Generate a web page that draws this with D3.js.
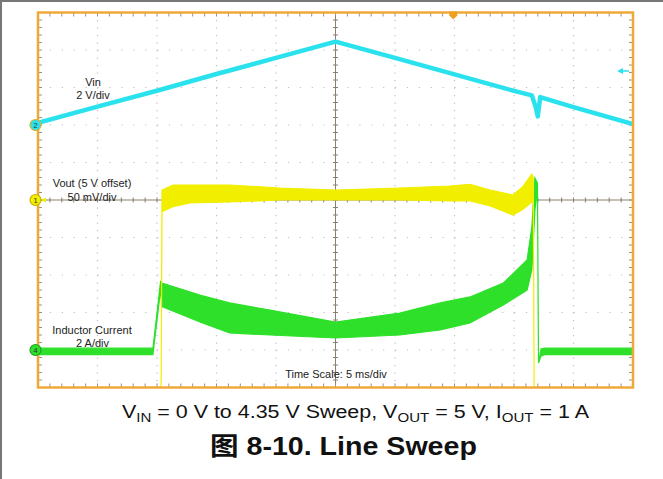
<!DOCTYPE html>
<html><head><meta charset="utf-8">
<script src="https://cdn.jsdelivr.net/npm/d3@7"></script>
<style>body{margin:0;background:#fff}svg{display:block}</style>
</head><body>
<script>
// ---- data (time in ms, 5 ms/div) ----
const vinTime  = [0, 5, 10.3, 15, 20, 25, 30, 35, 40, 41.5, 41.8, 42.0, 42.2, 45, 50];
const vinVolts = [0.11, 0.98, 1.88, 2.72, 3.58, 4.45, 3.58, 2.7, 1.82, 1.58, 1.0, 0.46, 1.49, 0.95, 0.05];

const voutTime = [0, 10.34, 10.42, 11.34, 12.77, 16.1, 20.3, 25, 30.4, 34.6, 36.3, 38.0, 39.9, 40.7, 41.5, 41.62, 41.7, 50];
const voutHigh = [-5000, -5000, 13.3, 20, 20, 20, 16, 13.3, 16, 18.7, 21, 13.3, 6.7, 17, 34.7, 30, -5000, -5000]; // mV, 5 V offset
const voutLow  = [-5000, -5000, -15.6, -9, -4, -2.7, 0, 0, 0, -1.3, -1.3, -8, -20, -13, -2.7, 0, -5000, -5000];

const ilTime = [0, 9.66, 10.3, 10.42, 13.6, 16.1, 19.5, 25, 30.4, 33.8, 36.3, 39.1, 41.1, 41.5, 41.76, 41.97, 42.06, 42.27, 42.6, 50];
const ilHigh = [0.1, 0.1, 3.65, 3.57, 2.93, 2.51, 2.13, 1.49, 1.97, 2.51, 2.83, 3.57, 4.8, 6.56, 9.17, 8.9, -0.69, 0.05, 0.1, 0.1];
const ilLow  = [-0.25, -0.25, 3.2, 2.32, 1.49, 0.91, 0.8, 0.64, 0.8, 1.07, 1.44, 2.4, 3.2, 4.27, 7.5, 8.5, -0.69, -0.32, -0.25, -0.25];

const hDivs = d3.range(0, 11);   // 10 horizontal divisions
const vDivs = d3.range(0, 11);   // 10 vertical divisions
const triggerTime = 34.9;        // ms, trigger position marker

// ---- layout ----
const W = 663, H = 479;
const L = 38, R = 633, T = 12.5, B = 387.5;
const svg = d3.select("body").append("svg").attr("width", W).attr("height", H);

// outer border (top & left)
svg.append("line").attr("x1",0).attr("x2",W).attr("y1",1).attr("y2",1).attr("stroke","#777").attr("stroke-width",2);
svg.append("line").attr("x1",1).attr("x2",1).attr("y1",0).attr("y2",H).attr("stroke","#777").attr("stroke-width",2);

const x = d3.scaleLinear().domain([0, 50]).range([L, R]);
const gDiv = d3.scaleLinear().domain([0, 10]).range([L, R]);
const vDiv = d3.scaleLinear().domain([0, 10]).range([T, B]);
const divH = (B - T) / 10;
const yVin = d3.scaleLinear().domain([0, 2]).range([125, 125 - divH]);     // 2 V/div
const yVout = d3.scaleLinear().domain([0, 50]).range([200, 200 - divH]);   // 50 mV/div
const yIl = d3.scaleLinear().domain([0, 2]).range([350, 350 - divH]);      // 2 A/div

// clip
svg.append("clipPath").attr("id","clip").append("rect").attr("x",L).attr("y",T).attr("width",R-L).attr("height",B-T);

// grid
const grid = svg.append("g");
hDivs.slice(1, -1).forEach(d => {
  grid.append("line").attr("x1", gDiv(d)).attr("x2", gDiv(d)).attr("y1", T).attr("y2", B)
    .attr("stroke", "#c0c0c0").attr("stroke-width", 1.2).attr("stroke-dasharray", "1.2,6.3");
});
vDivs.slice(1, -1).forEach(d => {
  grid.append("line").attr("x1", L).attr("x2", R).attr("y1", vDiv(d)).attr("y2", vDiv(d))
    .attr("stroke", "#c0c0c0").attr("stroke-width", 1.2).attr("stroke-dasharray", "1.2,10.7");
});

// center cross
const cx = gDiv(5), cy = vDiv(5);
grid.append("line").attr("x1", cx).attr("x2", cx).attr("y1", T).attr("y2", B).attr("stroke", "#8a8070").attr("stroke-width", 1);
grid.append("line").attr("x1", L).attr("x2", R).attr("y1", cy).attr("y2", cy).attr("stroke", "#8a8070").attr("stroke-width", 1);
const minorX = d3.range(0, 51).map(i => L + i * (R - L) / 50);
const minorY = d3.range(0, 51).map(i => T + i * (B - T) / 50);
minorX.forEach(px => {
  grid.append("line").attr("x1", px).attr("x2", px).attr("y1", cy - 2.5).attr("y2", cy + 2.5).attr("stroke", "#8a8070");
  grid.append("line").attr("x1", px).attr("x2", px).attr("y1", T).attr("y2", T + 4).attr("stroke", "#9a9080");
  grid.append("line").attr("x1", px).attr("x2", px).attr("y1", B - 4).attr("y2", B).attr("stroke", "#9a9080");
});
minorY.forEach(py => {
  grid.append("line").attr("x1", cx - 2.5).attr("x2", cx + 2.5).attr("y1", py).attr("y2", py).attr("stroke", "#8a8070");
  grid.append("line").attr("x1", L).attr("x2", L + 4).attr("y1", py).attr("y2", py).attr("stroke", "#9a9080");
  grid.append("line").attr("x1", R - 4).attr("x2", R).attr("y1", py).attr("y2", py).attr("stroke", "#9a9080");
});

// traces
const traces = svg.append("g").attr("clip-path", "url(#clip)");

const ilData = ilTime.map((t, i) => ({t, hi: ilHigh[i], lo: ilLow[i]}));
const voutData = voutTime.map((t, i) => ({t, hi: voutHigh[i], lo: voutLow[i]}));
const vinData = vinTime.map((t, i) => ({t, v: vinVolts[i]}));

const clampY = v => Math.max(T - 20, Math.min(B + 20, v));

const green = "#2ee02a", yellow = "#f2ee00", cyan = "#2ae2ee";

traces.append("path").datum(ilData)
  .attr("d", d3.area().x(d => x(d.t)).y0(d => clampY(yIl(d.lo))).y1(d => clampY(yIl(d.hi))))
  .attr("fill", green).attr("stroke", green).attr("stroke-width", 1.2);

traces.append("path").datum(voutData)
  .attr("d", d3.area().x(d => x(d.t)).y0(d => clampY(yVout(d.lo))).y1(d => clampY(yVout(d.hi))))
  .attr("fill", yellow).attr("stroke", yellow).attr("stroke-width", 1.2);

traces.append("path").datum(vinData)
  .attr("d", d3.line().x(d => x(d.t)).y(d => yVin(d.v)))
  .attr("fill", "none").attr("stroke", cyan).attr("stroke-width", 4.5).attr("stroke-linejoin", "round");

// frame
svg.append("rect").attr("x", L).attr("y", T).attr("width", R - L).attr("height", B - T)
  .attr("fill", "none").attr("stroke", "#f0a838").attr("stroke-width", 2.5);

// trigger position marker (top)
const tx = x(triggerTime);
svg.append("path").attr("d", `M${tx-4},${T-1} L${tx+4},${T-1} L${tx+4},${T+3} L${tx},${T+7} L${tx-4},${T+3} Z`).attr("fill", "#f0a020");

// trigger level arrow (right)
svg.append("path").attr("d", `M617,71 L623,68 L623,74 Z`).attr("fill", cyan);
svg.append("line").attr("x1", 622).attr("x2", 629).attr("y1", 71).attr("y2", 71).attr("stroke", cyan).attr("stroke-width", 1.5);

// channel markers
function marker(y, fill, stroke, label) {
  const g = svg.append("g");
  g.append("circle").attr("cx", 35.5).attr("cy", y).attr("r", 5.5).attr("fill", fill).attr("stroke", stroke).attr("stroke-width", 1.2);
  g.append("text").attr("x", 35.5).attr("y", y + 2.6).attr("text-anchor", "middle")
    .attr("font-family", "Liberation Sans, Arial, sans-serif").attr("font-size", 7.5).attr("fill", "#333").text(label);
}
svg.append("path").attr("d", `M41,200 L46,197.5 L46,202.5 Z`).attr("fill", yellow);
marker(yVin(0), cyan, "#e0b020", "2");
marker(yVout(0), yellow, "#c8b000", "1");
marker(yIl(0), green, "#20a020", "4");

// labels
const lab = svg.append("g").attr("font-family", "Liberation Sans, Arial, sans-serif").attr("font-size", 11).attr("fill", "#222").attr("text-anchor", "middle");
lab.append("text").attr("x", 93).attr("y", 85.5).text("Vin");
lab.append("text").attr("x", 93).attr("y", 99).text("2 V/div");
lab.append("text").attr("x", 92).attr("y", 187).text("Vout (5 V offset)");
lab.append("text").attr("x", 92).attr("y", 200.5).text("50 mV/div");
lab.append("text").attr("x", 92).attr("y", 334).text("Inductor Current");
lab.append("text").attr("x", 92.5).attr("y", 347).text("2 A/div");
lab.append("text").attr("x", 336).attr("y", 378).text("Time Scale: 5 ms/div");

// stretch a text group horizontally to span [x0, x1]
function fitWidth(g, x0, x1) {
  const bb = g.node().getBBox();
  const s = (x1 - x0) / bb.width;
  g.attr("transform", `translate(${x0},0) scale(${s},1) translate(${-bb.x},0)`);
}

// caption
const capG = svg.append("g");
const cap = capG.append("text").attr("x", 0).attr("y", 418)
  .attr("font-family", "Liberation Sans, Arial, sans-serif").attr("font-size", 18.5).attr("fill", "#111");
cap.append("tspan").text("V");
cap.append("tspan").attr("font-size", 13).attr("dy", 4).text("IN");
cap.append("tspan").attr("dy", -4).text(" = 0 V to 4.35 V Sweep, V");
cap.append("tspan").attr("font-size", 13).attr("dy", 4).text("OUT");
cap.append("tspan").attr("dy", -4).text(" = 5 V, I");
cap.append("tspan").attr("font-size", 13).attr("dy", 4).text("OUT");
cap.append("tspan").attr("dy", -4).text(" = 1 A");
fitWidth(capG, 122, 590);

const titleG = svg.append("g");
const title = titleG.append("text").attr("x", 0).attr("y", 455)
  .attr("font-family", "Liberation Sans, Arial, Noto Sans CJK SC, sans-serif").attr("font-weight", "bold").attr("font-size", 25.5).attr("fill", "#111");
title.append("tspan").attr("font-family", "Noto Sans CJK SC").text("图");
title.append("tspan").text(" 8-10. Line Sweep");
fitWidth(titleG, 210, 477);
</script>
</body></html>
